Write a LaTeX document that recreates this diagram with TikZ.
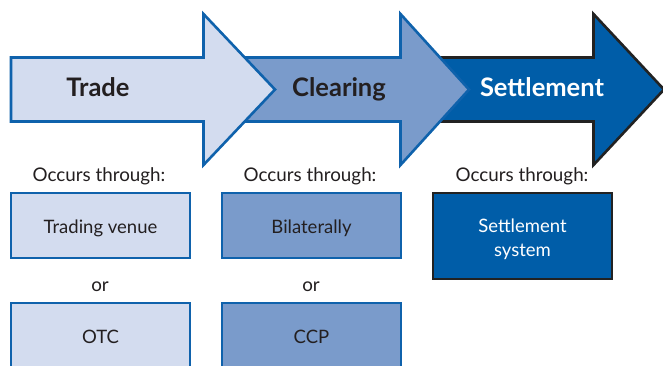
\documentclass[tikz,border=0pt]{standalone}
\usepackage{fontspec}
\setmainfont{Lato}
\definecolor{lightfill}{HTML}{D3DCEF}
\definecolor{midfill}{HTML}{7A9BCB}
\definecolor{darkfill}{HTML}{005DA8}
\definecolor{edgeblue}{HTML}{0F62AC}
\definecolor{edgedark}{HTML}{222222}
\definecolor{txt}{HTML}{231F20}
\tikzset{
  arrowshape/.style={line width=2.6pt, line join=miter},
  bigtitle/.style={font=\fontsize{25.5}{28}\selectfont\bfseries, inner sep=0pt, text height=18.3pt, text depth=0pt},
  smalltext/.style={font=\fontsize{18.8}{22}\selectfont, text=txt, inner sep=0pt},
  boxbase/.style={line width=2.8pt, minimum width=179pt, minimum height=65pt, inner sep=0pt, font=\fontsize{18.5}{24}\selectfont, align=center},
  onerow/.style={text height=20.8pt, text depth=5pt},
  lightbox/.style={boxbase, onerow, fill=lightfill, draw=edgeblue, text=txt},
  midbox/.style={boxbase, onerow, fill=midfill, draw=edgeblue, text=txt},
  darkbox/.style={boxbase, fill=darkfill, draw=edgedark, text=white, minimum height=86pt}
}
\begin{document}
\begin{tikzpicture}[x=1pt,y=-1pt]
\useasboundingbox (0,0) rectangle (663,365);
\clip (0,0) rectangle (663,365);
\fill[white] (0,0) rectangle (663,365);
% arrows (back to front)
\draw[arrowshape, fill=darkfill, draw=edgedark]
  (420,57.5) -- (593.5,57.5) -- (593.5,14) -- (664,89.5) -- (593.5,165) -- (593.5,121.5) -- (420,121.5) -- cycle;
\draw[arrowshape, fill=midfill, draw=edgeblue]
  (200,57.5) -- (400.5,57.5) -- (400.5,14) -- (469,89.5) -- (400.5,165) -- (400.5,121.5) -- (200,121.5) -- cycle;
\draw[arrowshape, fill=lightfill, draw=edgeblue]
  (11,57.5) -- (203.5,57.5) -- (203.5,14) -- (275,89.5) -- (203.5,165) -- (203.5,121.5) -- (11,121.5) -- cycle;
\node[bigtitle, text=txt] (trade) at (98,87.5) {Trade};
\node[bigtitle, text=txt] (clearing) at (339,87.5) {Clearing};
\node[bigtitle, text=white] (settlement) at (542,87.5) {Settlement};
% occurs through
\node[smalltext] (occ1) at (99,176) {Occurs through:};
\node[smalltext] (occ2) at (310,176) {Occurs through:};
\node[smalltext] (occ3) at (522,176) {Occurs through:};
% boxes
\node[lightbox] (venue) at (100.5,225.5) {Trading venue};
\node[midbox] (bilat) at (311.5,225.5) {Bilaterally};
\node[darkbox] (sys) at (522.5,236) {\rule{0pt}{22.4pt}Settlement\\system\rule[-5pt]{0pt}{5pt}};
\node[smalltext] (or1) at (100,287) {or};
\node[smalltext] (or2) at (311,287) {or};
\node[lightbox] (otc) at (100.5,335.5) {OTC};
\node[midbox] (ccp) at (311.5,335.5) {CCP};
\end{tikzpicture}
\end{document}
